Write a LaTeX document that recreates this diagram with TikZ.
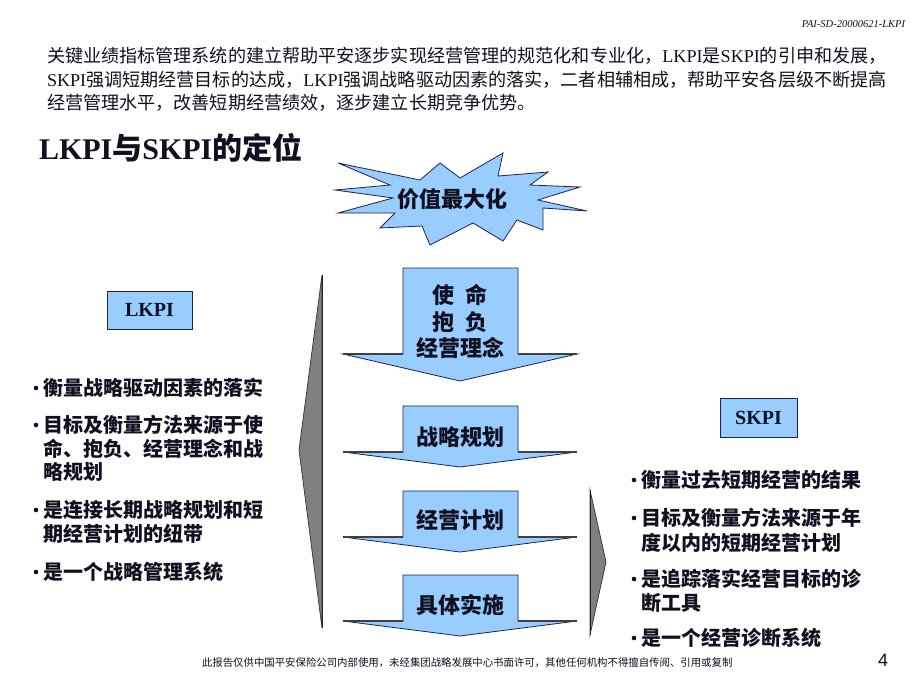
\documentclass[tikz,border=0pt]{standalone}
\usepackage{fontspec}
\setmainfont{Liberation Serif}
\newfontfamily\cjk{Noto Sans CJK SC}
\newfontfamily\arialf{Liberation Sans}
\definecolor{lblue}{HTML}{99CCFF}
\definecolor{navy}{HTML}{1A2450}
\definecolor{sgray}{HTML}{808080}
\definecolor{txt}{HTML}{101020}
\tikzset{
  bluefill/.style={fill=lblue,draw=navy,line width=0.8pt,line join=miter},
  grayfill/.style={fill=sgray,draw=black!80,line width=0.7pt},
  txtnode/.style={inner sep=0pt,outer sep=0pt,text=txt},
  para/.style={txtnode,anchor=west,font=\fontsize{18.1}{22}\selectfont},
  bul/.style={txtnode,anchor=west,font=\cjk\bfseries\fontsize{20}{24}\selectfont},
  dot/.style={circle,fill=txt,inner sep=0pt,minimum size=4.6pt},
  arrtxt/.style={txtnode,anchor=center,font=\cjk\bfseries\fontsize{22}{26}\selectfont},
  kbox/.style={bluefill,inner sep=0pt,font=\bfseries\fontsize{20}{24}\selectfont,text=txt},
  wingline/.style={draw=black!75,line width=1.4pt},
}
\begin{document}
\begin{tikzpicture}[x=1pt,y=-1pt]
\useasboundingbox (0,0) rectangle (920,690);
\fill[white] (0,0) rectangle (920,690);

% header
\node[txtnode,anchor=east,font=\itshape\fontsize{10.5}{12}\selectfont] (hdr) at (905,24) {PAI-SD-20000621-LKPI};

% paragraph
\node[para] (p1) at (47,56) {{\cjk 关键业绩指标管理系统的建立帮助平安逐步实现经营管理的规范化和专业化，}LKPI{\cjk 是}SKPI{\cjk 的引申和发展，}};
\node[para] (p2) at (47,80) {SKPI{\cjk 强调短期经营目标的达成，}LKPI{\cjk 强调战略驱动因素的落实，二者相辅相成，帮助平安各层级不断提高}};
\node[para] (p3) at (47,103) {{\cjk 经营管理水平，改善短期经营绩效，逐步建立长期竞争优势。}};

% title
\node[txtnode,anchor=west,font=\bfseries\fontsize{30}{33}\selectfont] (title) at (39,148) {LKPI{\cjk\bfseries 与}SKPI{\cjk\bfseries 的定位}};

% star
\path[bluefill] (338,163) -- (420,180) -- (440,163) -- (460,178) -- (503,153) -- (498,176)
  -- (548,172) -- (530,185) -- (580,187) -- (538,200) -- (587,211) -- (543,208)
  -- (543,230) -- (517,220) -- (503,241) -- (473,223) -- (430,245) -- (422,226)
  -- (380,228) -- (395,213) -- (338,213) -- (393,198) -- (335,190) -- (390,185) -- cycle;
\node[arrtxt] (star) at (452,199) {价值最大化};

% gray side shapes
\path[grayfill] (322,275) -- (299,450) -- (322,628) -- cycle;
\draw[black!85,line width=1pt] (322,275) -- (322,628);
\path[grayfill] (590,490) -- (606,562) -- (590,635) -- cycle;
\draw[black!85,line width=1pt] (590,490) -- (590,635);

% arrow 1
\path[bluefill] (403,268) -- (518,268) -- (518,354) -- (577,354) -- (460,381) -- (343,354) -- (403,354) -- cycle;
\draw[wingline] (343,354) -- (403,354) (518,354) -- (577,354);
\node[arrtxt] (a1a) at (460,295) {使\hspace{0.5em}命};
\node[arrtxt] (a1b) at (460,322) {抱\hspace{0.5em}负};
\node[arrtxt] (a1c) at (460,348) {经营理念};

% arrow 2
\path[bluefill] (403,406) -- (518,406) -- (518,452) -- (577,452) -- (460,467) -- (343,452) -- (403,452) -- cycle;
\draw[wingline] (343,452) -- (403,452) (518,452) -- (577,452);
\node[arrtxt] (a2) at (460,437) {战略规划};

% arrow 3
\path[bluefill] (403,491) -- (518,491) -- (518,537) -- (577,537) -- (460,552) -- (343,537) -- (403,537) -- cycle;
\draw[wingline] (343,537) -- (403,537) (518,537) -- (577,537);
\node[arrtxt] (a3) at (460,520) {经营计划};

% arrow 4
\path[bluefill] (403,575) -- (518,575) -- (518,621) -- (577,621) -- (460,636) -- (343,621) -- (403,621) -- cycle;
\draw[wingline] (343,621) -- (403,621) (518,621) -- (577,621);
\node[arrtxt] (a4) at (460,605) {具体实施};

% LKPI / SKPI boxes
\node[kbox,minimum width=85pt,minimum height=38pt] (lkpi) at (149.5,310) {LKPI};
\node[kbox,minimum width=77pt,minimum height=39pt] (skpi) at (758.5,417.5) {SKPI};

% left bullets
\node[dot] (ld1) at (36,388) {};
\node[bul] (l1) at (43,388) {衡量战略驱动因素的落实};
\node[dot] (ld2) at (36,425) {};
\node[bul] (l2a) at (43,425) {目标及衡量方法来源于使};
\node[bul] (l2b) at (43,448.5) {命、抱负、经营理念和战};
\node[bul] (l2c) at (43,472) {略规划};
\node[dot] (ld3) at (36,510) {};
\node[bul] (l3a) at (43,510) {是连接长期战略规划和短};
\node[bul] (l3b) at (43,533.5) {期经营计划的纽带};
\node[dot] (ld4) at (36,572) {};
\node[bul] (l4) at (43,572) {是一个战略管理系统};

% right bullets
\node[dot] (rd1) at (634,480) {};
\node[bul] (r1) at (641,480) {衡量过去短期经营的结果};
\node[dot] (rd2) at (634,518) {};
\node[bul] (r2a) at (641,518) {目标及衡量方法来源于年};
\node[bul] (r2b) at (641,542.5) {度以内的短期经营计划};
\node[dot] (rd3) at (634,579) {};
\node[bul] (r3a) at (641,579) {是追踪落实经营目标的诊};
\node[bul] (r3b) at (641,603) {断工具};
\node[dot] (rd4) at (634,638) {};
\node[bul] (r4) at (641,638) {是一个经营诊断系统};

% footer
\node[txtnode,anchor=west,font=\cjk\fontsize{10.4}{12}\selectfont] (foot) at (202,663) {此报告仅供中国平安保险公司内部使用，未经集团战略发展中心书面许可，其他任何机构不得擅自传阅、引用或复制};
\node[txtnode,anchor=center,font=\arialf\fontsize{18}{20}\selectfont] (pnum) at (883,660) {4};
\end{tikzpicture}
\end{document}
